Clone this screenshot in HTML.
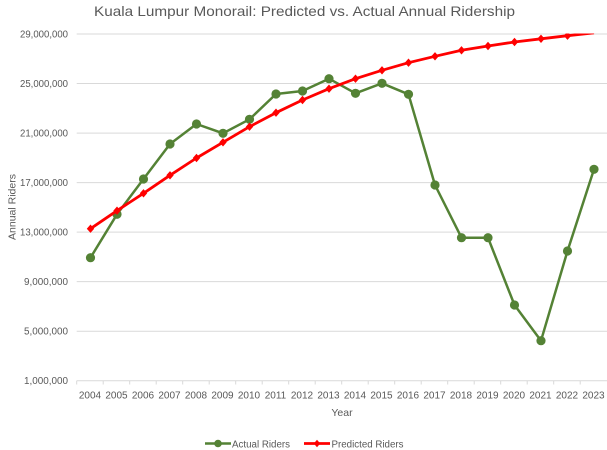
<!DOCTYPE html>
<html>
<head>
<meta charset="utf-8">
<style>
  html, body { margin: 0; padding: 0; background: #ffffff; }
  svg { display: block; }
  text { font-family: "Liberation Sans", "DejaVu Sans", sans-serif; fill: #595959; }
</style>
</head>
<body>
<svg width="607" height="450" viewBox="0 0 607 450" xmlns="http://www.w3.org/2000/svg">
  <defs>
    <clipPath id="plot">
      <rect x="76.7" y="33.5" width="531" height="350"/>
    </clipPath>
  </defs>
  <rect x="0" y="0" width="607" height="450" fill="#ffffff"/>

  <!-- Title -->
  <text x="304.5" y="16" font-size="14" text-anchor="middle" textLength="421" lengthAdjust="spacingAndGlyphs">Kuala Lumpur Monorail: Predicted vs. Actual Annual Ridership</text>

  <!-- Gridlines -->
  <g stroke="#d9d9d9" stroke-width="1">
    <line x1="76.7" y1="34" x2="607" y2="34"/>
    <line x1="76.7" y1="83.5" x2="607" y2="83.5"/>
    <line x1="76.7" y1="133.1" x2="607" y2="133.1"/>
    <line x1="76.7" y1="182.6" x2="607" y2="182.6"/>
    <line x1="76.7" y1="232.1" x2="607" y2="232.1"/>
    <line x1="76.7" y1="281.6" x2="607" y2="281.6"/>
    <line x1="76.7" y1="331.2" x2="607" y2="331.2"/>
  </g>
  <!-- X axis line + ticks -->
  <g stroke="#d9d9d9" stroke-width="1">
    <line x1="76.7" y1="380.7" x2="607" y2="380.7"/>
    <line x1="76.7" y1="380.7" x2="76.7" y2="384.5"/>
    <line x1="103.2" y1="380.7" x2="103.2" y2="384.5"/>
    <line x1="129.7" y1="380.7" x2="129.7" y2="384.5"/>
    <line x1="156.2" y1="380.7" x2="156.2" y2="384.5"/>
    <line x1="182.7" y1="380.7" x2="182.7" y2="384.5"/>
    <line x1="209.2" y1="380.7" x2="209.2" y2="384.5"/>
    <line x1="235.7" y1="380.7" x2="235.7" y2="384.5"/>
    <line x1="262.2" y1="380.7" x2="262.2" y2="384.5"/>
    <line x1="288.7" y1="380.7" x2="288.7" y2="384.5"/>
    <line x1="315.2" y1="380.7" x2="315.2" y2="384.5"/>
    <line x1="341.7" y1="380.7" x2="341.7" y2="384.5"/>
    <line x1="368.2" y1="380.7" x2="368.2" y2="384.5"/>
    <line x1="394.7" y1="380.7" x2="394.7" y2="384.5"/>
    <line x1="421.2" y1="380.7" x2="421.2" y2="384.5"/>
    <line x1="447.7" y1="380.7" x2="447.7" y2="384.5"/>
    <line x1="474.2" y1="380.7" x2="474.2" y2="384.5"/>
    <line x1="500.7" y1="380.7" x2="500.7" y2="384.5"/>
    <line x1="527.2" y1="380.7" x2="527.2" y2="384.5"/>
    <line x1="553.7" y1="380.7" x2="553.7" y2="384.5"/>
    <line x1="580.2" y1="380.7" x2="580.2" y2="384.5"/>
  </g>

  <!-- Y axis labels -->
  <g font-size="10" text-anchor="end">
    <text x="68" y="37.5" textLength="48" lengthAdjust="spacingAndGlyphs">29,000,000</text>
    <text x="68" y="87" textLength="48" lengthAdjust="spacingAndGlyphs">25,000,000</text>
    <text x="68" y="136.6" textLength="48" lengthAdjust="spacingAndGlyphs">21,000,000</text>
    <text x="68" y="186.1" textLength="48" lengthAdjust="spacingAndGlyphs">17,000,000</text>
    <text x="68" y="235.6" textLength="48" lengthAdjust="spacingAndGlyphs">13,000,000</text>
    <text x="68" y="285.1" textLength="44" lengthAdjust="spacingAndGlyphs">9,000,000</text>
    <text x="68" y="334.7" textLength="44" lengthAdjust="spacingAndGlyphs">5,000,000</text>
    <text x="68" y="384.2" textLength="44" lengthAdjust="spacingAndGlyphs">1,000,000</text>
  </g>

  <!-- X axis labels -->
  <g font-size="10" text-anchor="middle">
    <text x="90" y="398.5">2004</text>
    <text x="116.5" y="398.5">2005</text>
    <text x="143" y="398.5">2006</text>
    <text x="169.5" y="398.5">2007</text>
    <text x="196" y="398.5">2008</text>
    <text x="222.5" y="398.5">2009</text>
    <text x="249" y="398.5">2010</text>
    <text x="275.5" y="398.5">2011</text>
    <text x="302" y="398.5">2012</text>
    <text x="328.5" y="398.5">2013</text>
    <text x="355" y="398.5">2014</text>
    <text x="381.5" y="398.5">2015</text>
    <text x="408" y="398.5">2016</text>
    <text x="434.5" y="398.5">2017</text>
    <text x="461" y="398.5">2018</text>
    <text x="487.5" y="398.5">2019</text>
    <text x="514" y="398.5">2020</text>
    <text x="540.5" y="398.5">2021</text>
    <text x="567" y="398.5">2022</text>
    <text x="593.5" y="398.5">2023</text>
  </g>

  <!-- Axis titles -->
  <text x="342" y="416" font-size="10.5" text-anchor="middle">Year</text>
  <text x="0" y="0" font-size="10.5" text-anchor="middle" transform="translate(15.5,207) rotate(-90)">Annual Riders</text>

  <g clip-path="url(#plot)" transform="translate(0.5,0)">
    <!-- Actual Riders -->
    <polyline fill="none" stroke="#548235" stroke-width="2.5" stroke-linejoin="round"
      points="90,257.7 116.5,214.3 143,179 169.5,144 196,124 222.5,133.3 249,119.3 275.5,94 302,91 328.5,78.7 355,93.3 381.5,83.3 408,94.3 434.5,185 461,237.7 487.5,237.7 514,305 540.5,340.7 567,251 593.5,169.3"/>
    <g fill="#548235">
      <circle cx="90" cy="257.7" r="4.6"/>
      <circle cx="116.5" cy="214.3" r="4.6"/>
      <circle cx="143" cy="179" r="4.6"/>
      <circle cx="169.5" cy="144" r="4.6"/>
      <circle cx="196" cy="124" r="4.6"/>
      <circle cx="222.5" cy="133.3" r="4.6"/>
      <circle cx="249" cy="119.3" r="4.6"/>
      <circle cx="275.5" cy="94" r="4.6"/>
      <circle cx="302" cy="91" r="4.6"/>
      <circle cx="328.5" cy="78.7" r="4.6"/>
      <circle cx="355" cy="93.3" r="4.6"/>
      <circle cx="381.5" cy="83.3" r="4.6"/>
      <circle cx="408" cy="94.3" r="4.6"/>
      <circle cx="434.5" cy="185" r="4.6"/>
      <circle cx="461" cy="237.7" r="4.6"/>
      <circle cx="487.5" cy="237.7" r="4.6"/>
      <circle cx="514" cy="305" r="4.6"/>
      <circle cx="540.5" cy="340.7" r="4.6"/>
      <circle cx="567" cy="251" r="4.6"/>
      <circle cx="593.5" cy="169.3" r="4.6"/>
    </g>

    <!-- Predicted Riders -->
    <polyline fill="none" stroke="#ff0000" stroke-width="2.8" stroke-linejoin="round"
      points="90,228.7 116.5,210.7 143,193.3 169.5,175.3 196,158 222.5,142.3 249,126.7 275.5,112.7 302,100 328.5,88.7 355,78.7 381.5,70.3 408,62.7 434.5,56.3 461,50.3 487.5,46 514,42 540.5,38.8 567,35.7 593.5,32.8"/>
    <g fill="#ff0000">
      <path d="M90,224.5 L93.7,228.7 L90,232.9 L86.3,228.7 Z"/>
      <path d="M116.5,206.5 L120.2,210.7 L116.5,214.9 L112.8,210.7 Z"/>
      <path d="M143,189.1 L146.7,193.3 L143,197.5 L139.3,193.3 Z"/>
      <path d="M169.5,171.1 L173.2,175.3 L169.5,179.5 L165.8,175.3 Z"/>
      <path d="M196,153.8 L199.7,158 L196,162.2 L192.3,158 Z"/>
      <path d="M222.5,138.1 L226.2,142.3 L222.5,146.5 L218.8,142.3 Z"/>
      <path d="M249,122.5 L252.7,126.7 L249,130.9 L245.3,126.7 Z"/>
      <path d="M275.5,108.5 L279.2,112.7 L275.5,116.9 L271.8,112.7 Z"/>
      <path d="M302,95.8 L305.7,100 L302,104.2 L298.3,100 Z"/>
      <path d="M328.5,84.5 L332.2,88.7 L328.5,92.9 L324.8,88.7 Z"/>
      <path d="M355,74.5 L358.7,78.7 L355,82.9 L351.3,78.7 Z"/>
      <path d="M381.5,66.1 L385.2,70.3 L381.5,74.5 L377.8,70.3 Z"/>
      <path d="M408,58.5 L411.7,62.7 L408,66.9 L404.3,62.7 Z"/>
      <path d="M434.5,52.1 L438.2,56.3 L434.5,60.5 L430.8,56.3 Z"/>
      <path d="M461,46.1 L464.7,50.3 L461,54.5 L457.3,50.3 Z"/>
      <path d="M487.5,41.8 L491.2,46 L487.5,50.2 L483.8,46 Z"/>
      <path d="M514,37.8 L517.7,42 L514,46.2 L510.3,42 Z"/>
      <path d="M540.5,34.6 L544.2,38.8 L540.5,43 L536.8,38.8 Z"/>
      <path d="M567,31.5 L570.7,35.7 L567,39.9 L563.3,35.7 Z"/>
    </g>
  </g>

  <!-- Legend -->
  <line x1="205" y1="443.5" x2="231" y2="443.5" stroke="#548235" stroke-width="2.5"/>
  <circle cx="218" cy="443.5" r="3.8" fill="#548235"/>
  <text x="232" y="447.5" font-size="10" textLength="58" lengthAdjust="spacingAndGlyphs">Actual Riders</text>

  <line x1="304" y1="443.5" x2="330" y2="443.5" stroke="#ff0000" stroke-width="2.8"/>
  <path d="M317,439.8 L320.2,443.5 L317,447.2 L313.8,443.5 Z" fill="#ff0000"/>
  <text x="331.5" y="447.5" font-size="10" textLength="72" lengthAdjust="spacingAndGlyphs">Predicted Riders</text>
</svg>
</body>
</html>
